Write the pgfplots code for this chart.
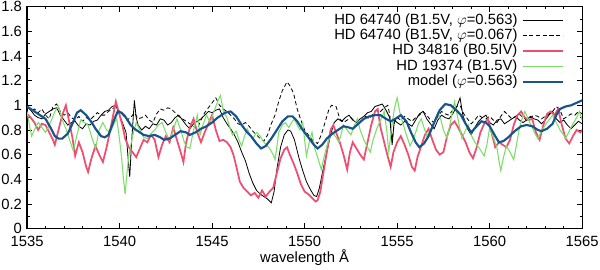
\documentclass[border=0pt]{standalone}
\usepackage{pgfplots}
\pgfplotsset{compat=1.18}
\usepackage{fontspec}
\setmainfont{Liberation Sans}
\definecolor{cblack}{RGB}{0,0,0}
\definecolor{cred}{RGB}{238,78,112}
\definecolor{cgreen}{RGB}{125,222,105}
\definecolor{cblue}{RGB}{24,84,140}
\begin{document}
\begin{tikzpicture}
\begin{axis}[
  scale only axis,
  width=412.5pt, height=165pt,
  xmin=1535, xmax=1565, ymin=0, ymax=1.8,
  xtick={1535,1540,...,1565},
  ytick={0,0.2,...,1.8},
  minor x tick num=4,
  minor y tick num=1,
  tick align=inside,
  major tick length=4pt, minor tick length=2pt,
  axis line style={line width=1pt},
  every tick/.style={black, line width=0.5pt},
  /pgf/number format/assume math mode=true,
  /pgf/number format/set thousands separator={},
  tick label style={font=\fontsize{11}{13}\selectfont, inner sep=1pt},
  xticklabel style={yshift=-4.7pt},
  yticklabel style={xshift=-2.6pt},
  xlabel={wavelength Å},
  xlabel style={font=\fontsize{11}{13}\selectfont, yshift=3pt},
  legend style={draw=none, fill=none, at={(0.975,0.985)}, anchor=north east,
    font=\fontsize{11}{11.6}\selectfont, row sep=0pt,
    nodes={inner ysep=0.4pt, inner xsep=3pt, text height=8pt, text depth=2.6pt},
    cells={anchor=east}},
  legend plot pos=right,
  legend image code/.code={\draw[#1] (0pt,0pt) -- (30pt,0pt);},
]
\addplot[black, line width=0.6pt] coordinates {
(1535.0,0.99)(1535.2,0.96)(1535.4,0.92)(1535.6,0.90)(1535.8,0.89)(1536.0,0.93)(1536.2,0.95)(1536.4,0.97)(1536.6,0.98)(1536.8,0.92)
(1537.0,0.88)(1537.2,0.84)(1537.4,0.86)(1537.6,0.87)(1537.8,0.83)(1538.0,0.81)(1538.2,0.85)(1538.4,0.84)(1538.6,0.87)(1538.8,0.88)
(1539.0,0.92)(1539.2,0.95)(1539.4,0.96)(1539.6,0.99)(1539.8,1.00)(1540.0,0.92)(1540.2,0.84)(1540.35,0.78)(1540.5,0.50)(1540.55,0.42)
(1540.65,0.70)(1540.8,1.04)(1540.9,0.90)(1541.0,0.84)(1541.2,0.80)(1541.4,0.83)(1541.6,0.81)(1541.8,0.85)(1542.0,0.84)(1542.2,0.89)
(1542.4,0.88)(1542.6,0.84)(1542.8,0.86)(1543.0,0.90)(1543.2,0.92)(1543.4,0.88)(1543.6,0.84)(1543.8,0.81)(1544.0,0.85)(1544.2,0.87)
(1544.4,0.89)(1544.6,0.92)(1544.8,0.95)(1545.0,0.94)(1545.2,0.96)(1545.4,0.97)(1545.6,0.90)(1545.8,0.85)(1546.0,0.81)(1546.2,0.76)
(1546.4,0.70)(1546.6,0.62)(1546.8,0.55)(1547.0,0.45)(1547.2,0.37)(1547.4,0.31)(1547.6,0.28)(1547.8,0.26)(1548.0,0.24)(1548.2,0.21)
(1548.35,0.30)(1548.5,0.48)(1548.7,0.66)(1548.9,0.76)(1549.1,0.80)(1549.25,0.79)(1549.45,0.72)(1549.7,0.57)(1549.9,0.47)(1550.1,0.38)
(1550.3,0.32)(1550.5,0.27)(1550.65,0.26)(1550.8,0.33)(1551.0,0.48)(1551.2,0.62)(1551.4,0.76)(1551.6,0.86)(1551.8,0.89)(1552.0,0.87)
(1552.2,0.90)(1552.4,0.92)(1552.6,0.88)(1552.8,0.86)(1553.0,0.89)(1553.2,0.91)(1553.4,0.94)(1553.6,0.95)(1553.8,0.99)(1554.0,1.00)
(1554.2,1.01)(1554.4,0.96)(1554.6,0.90)(1554.73,0.68)(1554.85,0.88)(1555.0,0.86)(1555.2,0.84)(1555.4,0.87)(1555.6,0.85)(1555.8,0.83)
(1556.0,0.88)(1556.2,0.93)(1556.4,0.95)(1556.6,0.89)(1556.8,0.85)(1557.0,0.81)(1557.2,0.88)(1557.4,0.92)(1557.6,0.90)(1557.8,0.89)
(1558.0,0.93)(1558.2,0.98)(1558.4,1.06)(1558.55,0.92)(1558.8,0.81)(1559.0,0.76)(1559.2,0.82)(1559.4,0.87)(1559.6,0.90)(1559.8,0.92)
(1560.0,0.86)(1560.2,0.84)(1560.4,0.88)(1560.6,0.89)(1560.8,0.85)(1561.0,0.87)(1561.2,0.89)(1561.4,0.91)(1561.6,0.88)(1561.8,0.86)
(1562.0,0.88)(1562.2,0.91)(1562.4,0.89)(1562.6,0.88)(1562.8,0.85)(1563.0,0.88)(1563.2,0.92)(1563.4,0.95)(1563.6,0.89)(1563.8,0.86)
(1564.0,0.88)(1564.2,0.84)(1564.4,0.81)(1564.6,0.84)(1564.8,0.87)(1565.0,0.85)
};
\addlegendentry{HD 64740 (B1.5V, $\varphi$=0.563)}
\addplot[black, line width=0.6pt, dash pattern=on 3pt off 2pt] coordinates {
(1535.0,0.99)(1535.2,0.96)(1535.4,0.97)(1535.6,0.94)(1535.8,0.97)(1536.0,0.92)(1536.2,0.89)(1536.4,0.99)(1536.6,1.01)(1536.8,0.95)
(1537.0,0.92)(1537.2,0.94)(1537.4,0.90)(1537.6,0.88)(1537.8,0.91)(1538.0,0.87)(1538.2,0.90)(1538.4,0.88)(1538.6,0.91)(1538.8,0.94)
(1539.0,0.92)(1539.2,0.92)(1539.4,0.95)(1539.6,0.97)(1539.8,0.99)(1540.0,0.95)(1540.2,0.92)(1540.4,0.88)(1540.6,0.90)(1540.8,0.94)
(1541.0,0.89)(1541.2,0.90)(1541.4,0.92)(1541.6,0.88)(1541.8,0.86)(1542.0,0.93)(1542.2,0.97)(1542.4,0.96)(1542.6,0.98)(1542.8,0.97)
(1543.0,0.94)(1543.2,0.91)(1543.4,0.89)(1543.6,0.87)(1543.8,0.85)(1544.0,0.83)(1544.2,0.81)(1544.4,0.88)(1544.6,0.94)(1544.8,0.98)
(1545.0,1.02)(1545.2,1.06)(1545.4,1.00)(1545.6,0.97)(1545.8,0.95)(1546.0,0.92)(1546.2,0.89)(1546.4,0.85)(1546.6,0.84)(1546.8,0.86)
(1547.0,0.83)(1547.2,0.79)(1547.4,0.76)(1547.6,0.73)(1547.8,0.71)(1548.0,0.76)(1548.2,0.85)(1548.4,0.92)(1548.6,1.03)(1548.8,1.12)
(1549.05,1.19)(1549.2,1.16)(1549.4,1.10)(1549.6,0.97)(1549.8,0.88)(1550.0,0.80)(1550.2,0.76)(1550.4,0.72)(1550.7,0.69)(1550.9,0.76)
(1551.1,0.86)(1551.3,0.96)(1551.45,1.00)(1551.7,0.99)(1551.9,0.89)(1552.1,0.86)(1552.3,0.88)(1552.5,0.90)(1552.7,0.87)(1552.9,0.85)
(1553.1,0.88)(1553.3,0.91)(1553.5,0.89)(1553.7,0.93)(1553.9,0.96)(1554.1,0.95)(1554.3,0.98)(1554.5,1.00)(1554.6,0.92)(1554.73,0.72)
(1554.85,0.86)(1555.0,0.90)(1555.2,0.88)(1555.4,0.91)(1555.6,0.89)(1555.8,0.87)(1556.0,0.90)(1556.2,0.92)(1556.4,0.95)(1556.6,0.92)
(1556.8,0.88)(1557.0,0.86)(1557.2,0.91)(1557.4,0.95)(1557.6,0.93)(1557.8,0.92)(1558.0,0.96)(1558.2,0.99)(1558.4,1.00)(1558.6,0.93)
(1558.8,0.89)(1559.0,0.85)(1559.2,0.88)(1559.4,0.92)(1559.6,0.90)(1559.8,0.89)(1560.0,0.91)(1560.2,0.88)(1560.4,0.86)(1560.6,0.91)
(1560.8,0.95)(1561.0,0.92)(1561.2,0.89)(1561.4,0.91)(1561.6,0.93)(1561.8,0.90)(1562.0,0.88)(1562.2,0.90)(1562.4,0.92)(1562.6,0.91)
(1562.8,0.89)(1563.0,0.91)(1563.2,0.93)(1563.4,0.95)(1563.6,0.99)(1563.8,0.96)(1564.0,0.89)(1564.2,0.91)(1564.4,0.93)(1564.6,0.92)
(1564.8,0.95)(1565.0,0.93)
};
\addlegendentry{HD 64740 (B1.5V, $\varphi$=0.067)}
\addplot[cred, line width=1.3pt] coordinates {
(1535.0,0.93)(1535.2,0.90)(1535.4,0.86)(1535.6,0.80)(1535.8,0.85)(1536.0,0.84)(1536.2,0.78)(1536.4,0.72)(1536.5,0.68)(1536.7,0.80)
(1536.9,0.92)(1537.1,1.00)(1537.3,0.85)(1537.45,0.74)(1537.6,0.59)(1537.8,0.70)(1538.0,0.62)(1538.2,0.50)(1538.3,0.46)(1538.5,0.58)
(1538.7,0.67)(1538.9,0.60)(1539.1,0.54)(1539.3,0.66)(1539.5,0.80)(1539.8,1.03)(1540.0,0.92)(1540.15,0.84)(1540.3,0.73)(1540.5,0.66)
(1540.7,0.62)(1540.9,0.58)(1541.1,0.65)(1541.3,0.72)(1541.5,0.70)(1541.7,0.76)(1541.9,0.72)(1542.1,0.58)(1542.3,0.68)(1542.5,0.75)
(1542.7,0.70)(1542.9,0.82)(1543.1,0.72)(1543.3,0.62)(1543.45,0.54)(1543.6,0.70)(1543.8,0.82)(1544.0,0.89)(1544.2,0.78)(1544.4,0.70)
(1544.6,0.78)(1544.8,0.85)(1545.0,0.92)(1545.2,0.80)(1545.4,0.71)(1545.6,0.72)(1545.8,0.70)(1546.0,0.66)(1546.15,0.60)(1546.3,0.51)
(1546.5,0.38)(1546.7,0.33)(1546.9,0.30)(1547.1,0.27)(1547.3,0.29)(1547.5,0.25)(1547.7,0.31)(1547.9,0.26)(1548.1,0.30)(1548.3,0.33)
(1548.5,0.45)(1548.7,0.57)(1548.9,0.64)(1549.05,0.66)(1549.2,0.60)(1549.4,0.53)(1549.6,0.45)(1549.8,0.36)(1550.0,0.30)(1550.2,0.28)
(1550.4,0.25)(1550.6,0.22)(1550.7,0.23)(1550.85,0.30)(1551.0,0.44)(1551.2,0.62)(1551.4,0.80)(1551.55,0.84)(1551.7,0.78)(1551.9,0.70)
(1552.1,0.60)(1552.3,0.48)(1552.45,0.62)(1552.6,0.70)(1552.8,0.65)(1553.0,0.60)(1553.2,0.56)(1553.4,0.70)(1553.6,0.84)(1553.8,0.95)
(1553.95,0.97)(1554.1,0.82)(1554.3,0.70)(1554.5,0.58)(1554.65,0.50)(1554.8,0.62)(1555.0,0.70)(1555.2,0.75)(1555.4,0.68)(1555.6,0.60)
(1555.8,0.50)(1555.95,0.47)(1556.1,0.58)(1556.3,0.67)(1556.5,0.76)(1556.7,0.81)(1556.9,0.72)(1557.1,0.64)(1557.3,0.60)(1557.5,0.62)
(1557.7,0.75)(1557.9,0.84)(1558.1,0.87)(1558.3,0.82)(1558.5,0.76)(1558.7,0.70)(1558.9,0.62)(1559.1,0.57)(1559.3,0.66)(1559.5,0.78)
(1559.7,0.85)(1559.9,0.89)(1560.1,0.78)(1560.3,0.66)(1560.5,0.70)(1560.7,0.68)(1560.9,0.66)(1561.1,0.72)(1561.3,0.84)(1561.5,0.92)
(1561.7,0.95)(1561.9,0.90)(1562.1,0.88)(1562.3,0.89)(1562.5,0.78)(1562.7,0.72)(1562.9,0.84)(1563.1,0.93)(1563.3,0.95)(1563.5,0.92)
(1563.7,0.97)(1563.9,0.84)(1564.1,0.73)(1564.3,0.69)(1564.5,0.75)(1564.7,0.80)(1564.9,0.78)(1565.0,0.80)
};
\addlegendentry{HD 34816 (B0.5IV)}
\addplot[cgreen, line width=0.8pt] coordinates {
(1535.0,0.95)(1535.15,0.82)(1535.25,0.75)(1535.4,0.80)(1535.6,0.86)(1535.8,0.82)(1536.0,0.78)(1536.2,0.84)(1536.35,0.89)(1536.5,0.95)
(1536.7,0.99)(1536.9,0.88)(1537.1,0.81)(1537.3,0.72)(1537.5,0.63)(1537.7,0.76)(1537.9,0.88)(1538.1,0.86)(1538.3,0.84)(1538.5,0.74)
(1538.7,0.65)(1538.9,0.80)(1539.1,0.86)(1539.3,0.80)(1539.5,0.78)(1539.7,0.85)(1539.85,0.89)(1540.0,0.72)(1540.1,0.59)(1540.2,0.42)
(1540.3,0.28)(1540.4,0.45)(1540.5,0.59)(1540.7,0.75)(1540.9,0.86)(1541.1,0.80)(1541.3,0.74)(1541.5,0.73)(1541.7,0.77)(1541.9,0.80)
(1542.1,0.84)(1542.3,0.86)(1542.5,0.78)(1542.7,0.72)(1542.9,0.80)(1543.1,0.89)(1543.3,0.80)(1543.5,0.70)(1543.65,0.66)(1543.8,0.65)
(1544.0,0.80)(1544.2,0.92)(1544.35,0.76)(1544.5,0.84)(1544.7,0.92)(1544.9,0.86)(1545.1,0.95)(1545.3,1.03)(1545.45,1.08)(1545.6,0.96)
(1545.8,0.90)(1546.0,0.80)(1546.1,0.76)(1546.3,0.79)(1546.45,0.72)(1546.6,0.67)(1546.75,0.75)(1546.9,0.81)(1547.05,0.76)(1547.2,0.73)
(1547.4,0.78)(1547.6,0.75)(1547.8,0.70)(1548.0,0.67)(1548.15,0.64)(1548.3,0.60)(1548.4,0.56)(1548.5,0.66)(1548.6,0.78)(1548.8,0.84)
(1548.95,0.86)(1549.15,0.82)(1549.3,0.86)(1549.45,0.89)(1549.6,0.84)(1549.75,0.80)(1549.9,0.86)(1550.0,0.72)(1550.1,0.59)(1550.25,0.70)
(1550.4,0.78)(1550.55,0.65)(1550.7,0.58)(1550.9,0.48)(1551.05,0.58)(1551.2,0.67)(1551.35,0.74)(1551.5,0.78)(1551.7,0.74)(1551.85,0.70)
(1552.0,0.78)(1552.1,0.84)(1552.3,0.80)(1552.5,0.76)(1552.7,0.84)(1552.85,0.89)(1553.0,0.80)(1553.2,0.72)(1553.4,0.66)(1553.55,0.62)
(1553.7,0.72)(1553.9,0.81)(1554.1,0.88)(1554.3,0.95)(1554.45,0.78)(1554.55,0.62)(1554.7,0.82)(1554.85,0.97)(1555.0,1.06)(1555.15,0.94)
(1555.3,0.86)(1555.5,0.76)(1555.7,0.67)(1555.85,0.72)(1556.0,0.78)(1556.15,0.85)(1556.3,0.89)(1556.45,0.82)(1556.6,0.75)(1556.8,0.80)
(1557.0,0.86)(1557.2,0.94)(1557.35,0.89)(1557.5,0.80)(1557.7,0.73)(1557.9,0.88)(1558.1,1.03)(1558.3,0.88)(1558.5,0.73)(1558.7,0.80)
(1558.85,0.84)(1559.0,0.76)(1559.2,0.70)(1559.45,0.65)(1559.7,0.59)(1559.85,0.68)(1560.0,0.82)(1560.2,0.74)(1560.4,0.65)(1560.5,0.55)
(1560.6,0.47)(1560.75,0.58)(1560.9,0.67)(1561.1,0.62)(1561.3,0.56)(1561.45,0.68)(1561.6,0.81)(1561.75,0.89)(1561.9,0.95)(1562.1,0.88)
(1562.3,0.82)(1562.45,0.77)(1562.6,0.73)(1562.8,0.79)(1563.0,0.84)(1563.2,0.88)(1563.4,0.92)(1563.6,0.86)(1563.8,0.80)(1564.0,0.76)
(1564.1,0.73)(1564.3,0.79)(1564.5,0.85)(1564.7,0.90)(1564.85,0.95)(1565.0,0.88)
};
\addlegendentry{HD 19374 (B1.5V)}
\addplot[cblue, line width=1.6pt] coordinates {
(1535.0,0.99)(1535.3,0.96)(1535.6,0.93)(1536.0,0.89)(1536.3,0.81)(1536.5,0.75)(1536.7,0.73)(1536.9,0.73)(1537.2,0.77)(1537.45,0.85)
(1537.7,0.94)(1537.9,0.96)(1538.2,0.92)(1538.5,0.86)(1538.7,0.81)(1539.0,0.75)(1539.2,0.74)(1539.4,0.76)(1539.7,0.88)(1539.9,0.95)
(1540.1,0.94)(1540.3,0.91)(1540.6,0.84)(1540.8,0.81)(1541.0,0.79)(1541.3,0.76)(1541.6,0.75)(1541.9,0.76)(1542.2,0.74)(1542.4,0.72)
(1542.7,0.73)(1543.0,0.76)(1543.3,0.79)(1543.6,0.78)(1543.8,0.76)(1544.1,0.78)(1544.4,0.81)(1544.7,0.83)(1545.0,0.86)(1545.3,0.90)
(1545.7,0.94)(1546.0,0.95)(1546.3,0.91)(1546.6,0.84)(1546.9,0.78)(1547.1,0.75)(1547.4,0.69)(1547.65,0.65)(1547.9,0.67)(1548.2,0.73)
(1548.5,0.80)(1548.8,0.87)(1549.1,0.91)(1549.35,0.91)(1549.6,0.87)(1549.9,0.80)(1550.2,0.74)(1550.5,0.68)(1550.7,0.65)(1550.95,0.68)
(1551.2,0.73)(1551.5,0.77)(1551.8,0.80)(1552.1,0.83)(1552.4,0.82)(1552.6,0.81)(1552.9,0.85)(1553.2,0.89)(1553.5,0.91)(1553.8,0.92)
(1554.1,0.92)(1554.4,0.89)(1554.65,0.87)(1554.9,0.89)(1555.2,0.92)(1555.5,0.87)(1555.75,0.78)(1556.0,0.70)(1556.2,0.66)(1556.45,0.69)
(1556.7,0.75)(1557.0,0.86)(1557.3,0.96)(1557.6,1.01)(1557.9,1.00)(1558.2,0.96)(1558.45,0.92)(1558.7,0.85)(1559.0,0.78)(1559.3,0.83)
(1559.55,0.87)(1559.8,0.86)(1560.0,0.83)(1560.3,0.75)(1560.5,0.70)(1560.75,0.71)(1561.0,0.74)(1561.35,0.79)(1561.7,0.83)(1562.0,0.84)
(1562.3,0.83)(1562.6,0.80)(1562.8,0.79)(1563.1,0.81)(1563.4,0.85)(1563.6,0.92)(1563.8,0.97)(1564.1,0.99)(1564.4,1.00)(1564.7,1.02)
(1565.0,1.04)
};
\addlegendentry{model ($\varphi$=0.563)}
\end{axis}
\end{tikzpicture}
\end{document}
